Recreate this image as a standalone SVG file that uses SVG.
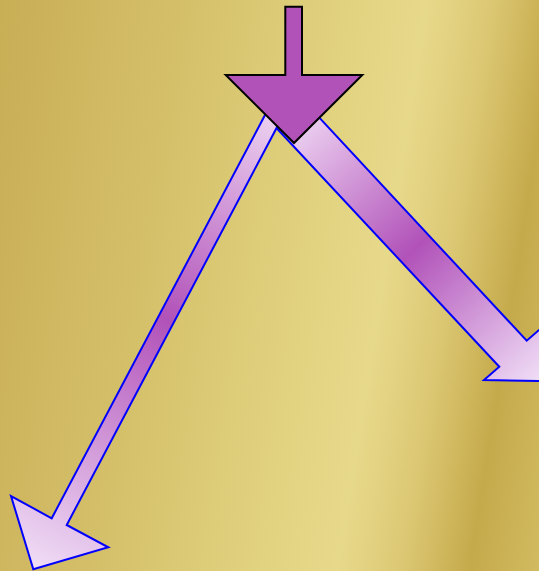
<svg xmlns="http://www.w3.org/2000/svg" width="539" height="571" viewBox="0 0 539 571">
  <defs>
    <linearGradient id="bg" gradientUnits="userSpaceOnUse" x1="0" y1="0" x2="613.6" y2="96.9">
      <stop offset="0" stop-color="#c8ae55"/>
      <stop offset="0.3" stop-color="#d5c06a"/>
      <stop offset="0.55" stop-color="#e1d27f"/>
      <stop offset="0.68" stop-color="#e7d98a"/>
      <stop offset="0.78" stop-color="#dcc874"/>
      <stop offset="0.89" stop-color="#c5aa4b"/>
      <stop offset="1" stop-color="#d1ba60"/>
    </linearGradient>
    <linearGradient id="gLeft" gradientUnits="userSpaceOnUse" x1="274" y1="114" x2="33" y2="569">
      <stop offset="0" stop-color="#ecd2f0"/>
      <stop offset="0.45" stop-color="#b152b9"/>
      <stop offset="1" stop-color="#f0def6"/>
    </linearGradient>
    <linearGradient id="gRight" gradientUnits="userSpaceOnUse" x1="291" y1="115" x2="540" y2="381">
      <stop offset="0" stop-color="#f0daf4"/>
      <stop offset="0.5" stop-color="#b152b9"/>
      <stop offset="1" stop-color="#f0def6"/>
    </linearGradient>
    <style>
      .diag { stroke: #0000ff; stroke-width: 2; stroke-linejoin: miter; }
      .main { fill: #b152b9; stroke: #000000; stroke-width: 2; stroke-linejoin: miter; }
    </style>
  </defs>
  <rect x="0" y="0" width="539" height="571" fill="url(#bg)"/>
  <g id="connectors">
    <polygon id="arrow-right" class="diag" fill="url(#gRight)" points="276.7,128.3 304.9,102.1 526.7,340.7 542,327.4 540,381 484,380 499.3,366.7"/>
    <polygon id="arrow-left" class="diag" fill="url(#gLeft)" points="267.3,110.7 281.7,118.3 66.7,525 108.3,547.3 33.3,569.3 11,496 51.7,518.3"/>
  </g>
  <g id="arrow-down">
    <polygon class="main" points="285.3,6.7 302,6.7 302,75 362.3,75 294,143 225.7,75 285.3,75"/>
  </g>
</svg>
